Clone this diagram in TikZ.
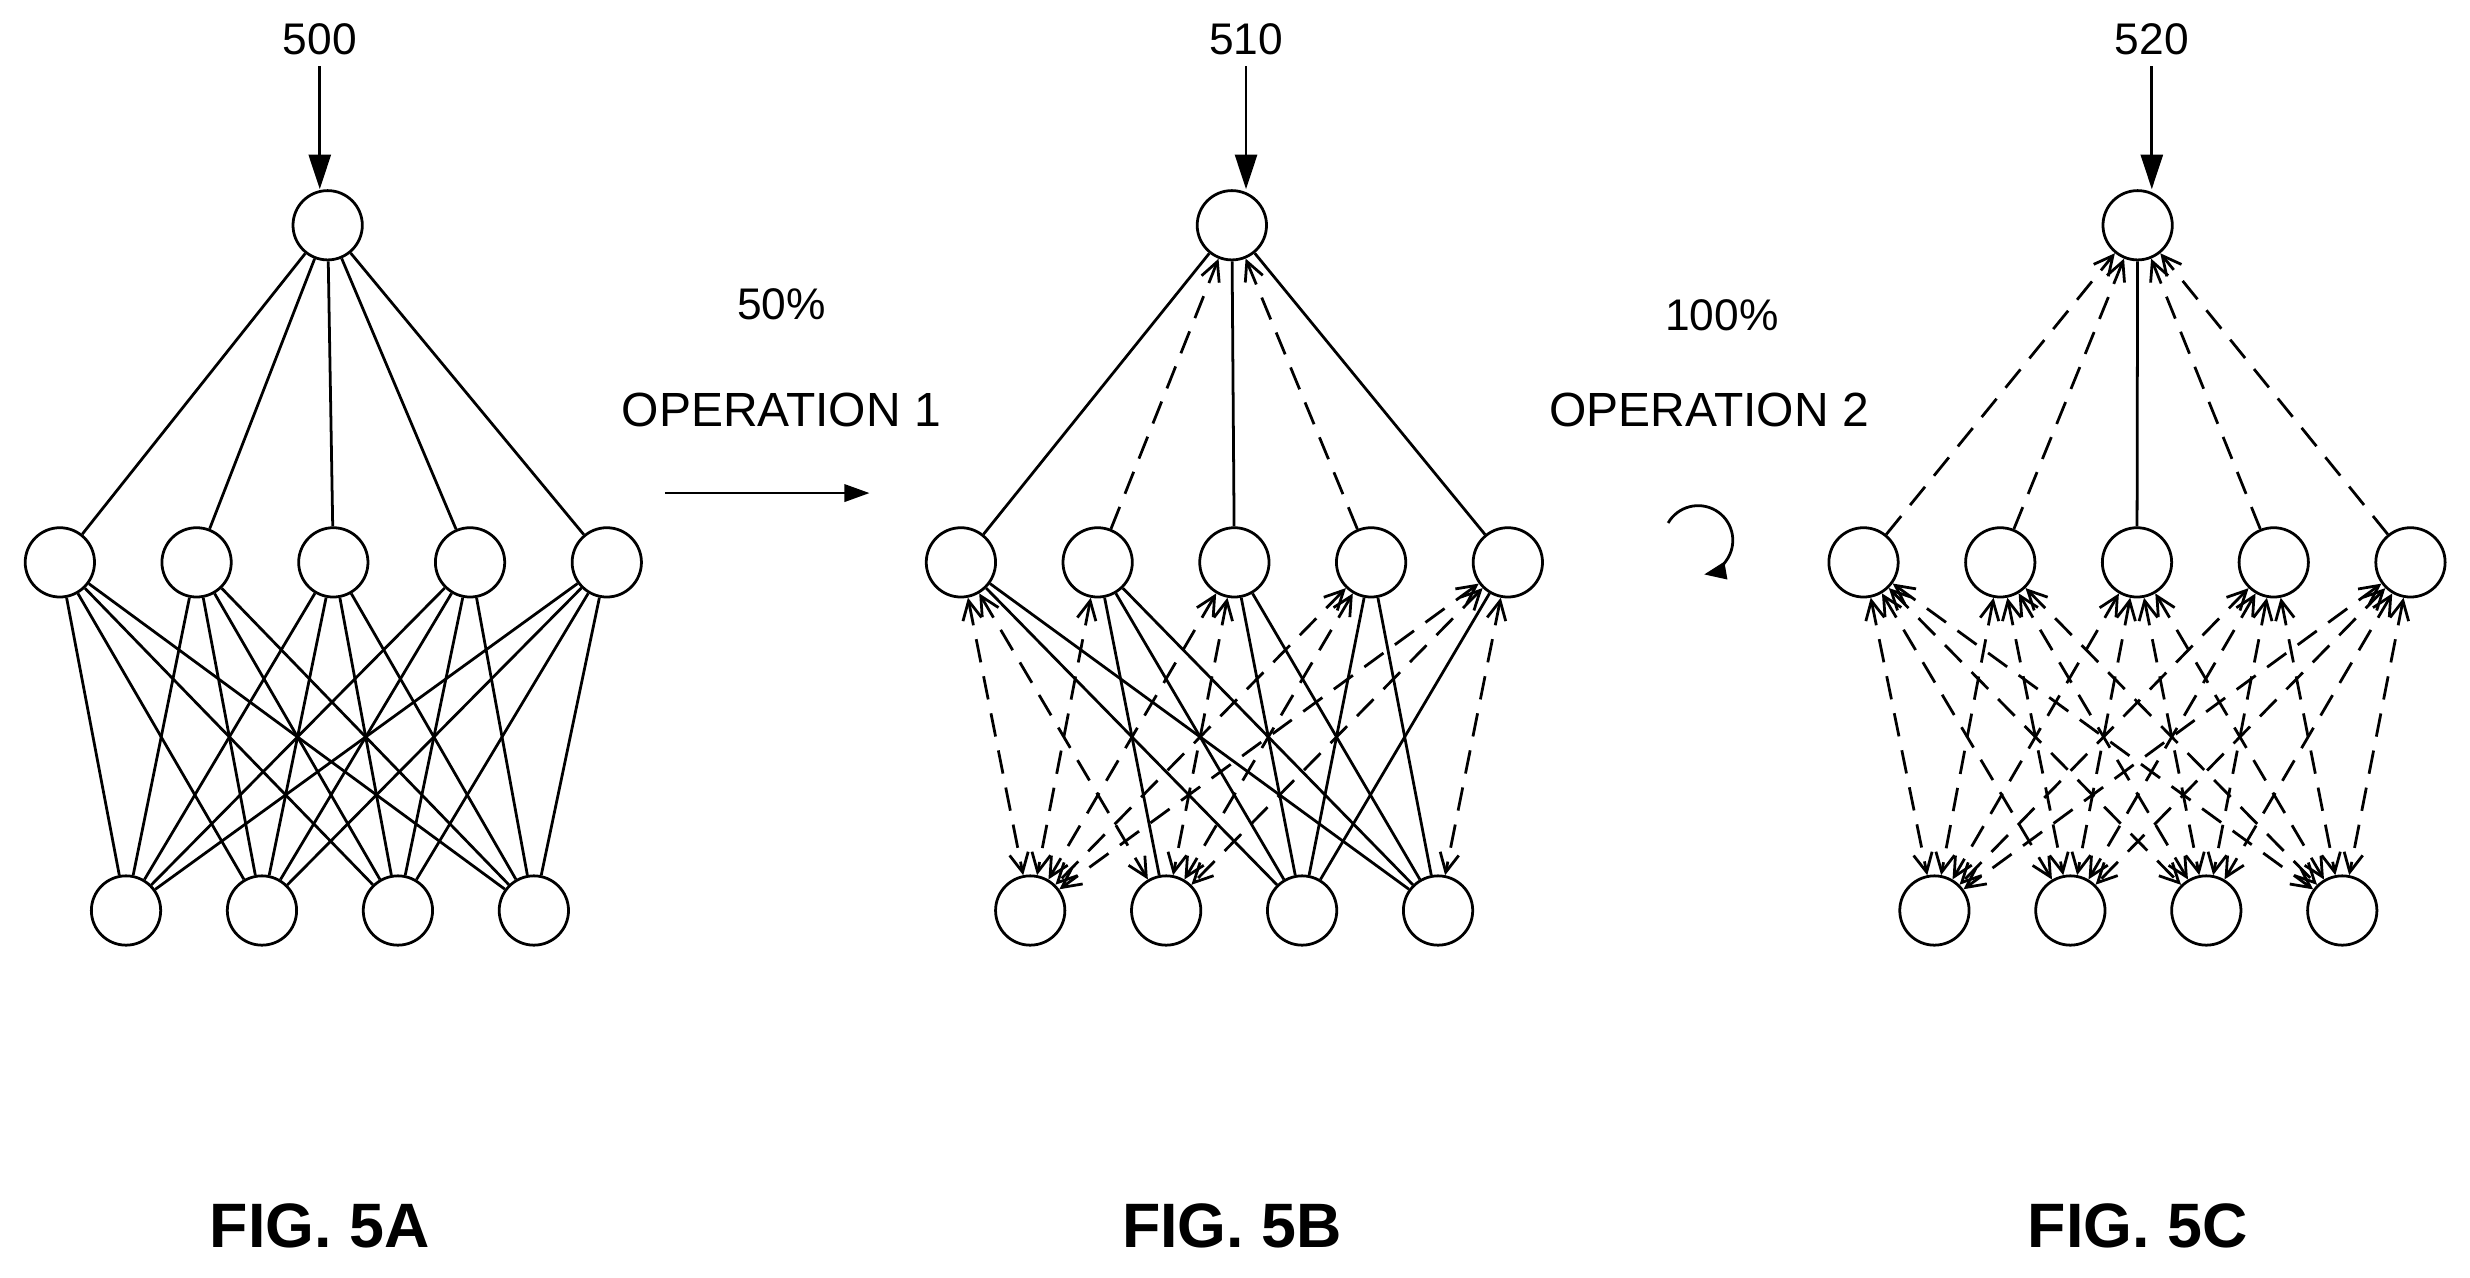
\documentclass[tikz,border=0pt]{standalone}
\usepackage{fontspec}
\setmainfont{Liberation Sans}
\usetikzlibrary{arrows.meta}
\begin{document}
\begin{tikzpicture}[x=0.03cm,y=-0.03cm,
  nd/.style={circle,draw,line width=1.5pt,minimum size=44*0.03cm,inner sep=0},
  ln/.style={line width=1.5pt},
  ds/.style={line width=1.5pt,dash pattern=on 15*0.03cm off 9*0.03cm},
  tip/.style={-{Straight Barb[length=12*0.03cm,width=12*0.03cm]}},
  both/.style={{Straight Barb[length=12*0.03cm,width=12*0.03cm]}-{Straight Barb[length=12*0.03cm,width=12*0.03cm]}},
  lab/.style={font=\fontsize{24}{28}\selectfont},
  opl/.style={font=\fontsize{26}{30}\selectfont},
  fig/.style={font=\fontsize{34}{40}\selectfont\bfseries},
  inarr/.style={line width=1.5pt,-{Triangle[length=22*0.03cm,width=14*0.03cm]}}]
\useasboundingbox (0,0) rectangle (1568,811);
% nodes
\foreach \p/\tx/\hx/\ox in {A/208/38/80,B/782/610/654,C/1357/1183/1228}{
  \node[nd] (\p-t) at (\tx,143) {};
  \foreach \i in {1,...,5} \node[nd] (\p-h\i) at ({\hx+(\i-1)*86.8},357) {};
  \foreach \i in {1,...,4} \node[nd] (\p-o\i) at ({\ox+(\i-1)*86.3},578) {};
}
% labels and input arrows
\node[lab] (la) at (203,25) {500};
\node[lab] (lb) at (791,25) {510};
\node[lab] (lc) at (1366,25) {520};
\coordinate (ca) at (203,42);
\coordinate (cb) at (791,42);
\coordinate (cc) at (1366,42);
\draw[inarr] (ca) -- (ca |- A-t.north);
\draw[inarr] (cb) -- (cb |- B-t.north);
\draw[inarr] (cc) -- (cc |- C-t.north);
% 5A
\foreach \i in {1,...,5}{
  \draw[ln] (A-t) -- (A-h\i);
  \foreach \j in {1,...,4} \draw[ln] (A-h\i) -- (A-o\j);
}
% 5B
\foreach \i in {1,3,5} \draw[ln] (B-t) -- (B-h\i);
\foreach \i in {2,4} \draw[ds,tip] (B-h\i) -- (B-t);
\foreach \i/\j in {1/3,1/4,2/2,2/3,2/4,3/3,3/4,4/3,4/4,5/3} \draw[ln] (B-h\i) -- (B-o\j);
\foreach \i/\j in {1/1,1/2,2/1,3/1,3/2,4/1,4/2,5/1,5/2,5/4} \draw[ds,both] (B-h\i) -- (B-o\j);
% 5C
\draw[ln] (C-t) -- (C-h3);
\foreach \i in {1,2,4,5} \draw[ds,tip] (C-h\i) -- (C-t);
\foreach \i in {1,...,5}{\foreach \j in {1,...,4} \draw[ds,both] (C-h\i) -- (C-o\j);}
% operations
\node[lab] (p1) at (496,193) {50\%};
\node[opl] (op1) at (496,260) {OPERATION 1};
\coordinate (a1) at (422,313);
\coordinate (a2) at (552,313);
\draw[line width=1.5pt,-{Triangle[length=16*0.03cm,width=11*0.03cm]}] (a1) -- (a2);
\node[lab] (p2) at (1093,200) {100\%};
\node[opl] (op2) at (1085,260) {OPERATION 2};
\coordinate (rs) at ({1078+22*cos(150)},{343-22*sin(150)});
\draw[line width=1.5pt,-{Triangle[length=14*0.03cm,width=11*0.03cm]}] (rs) arc[start angle=-150,end angle=80,radius=22];
% figure captions
\node[fig] (fa) at (203,778) {FIG. 5A};
\node[fig] (fb) at (782,778) {FIG. 5B};
\node[fig] (fc) at (1357,778) {FIG. 5C};
\end{tikzpicture}
\end{document}
